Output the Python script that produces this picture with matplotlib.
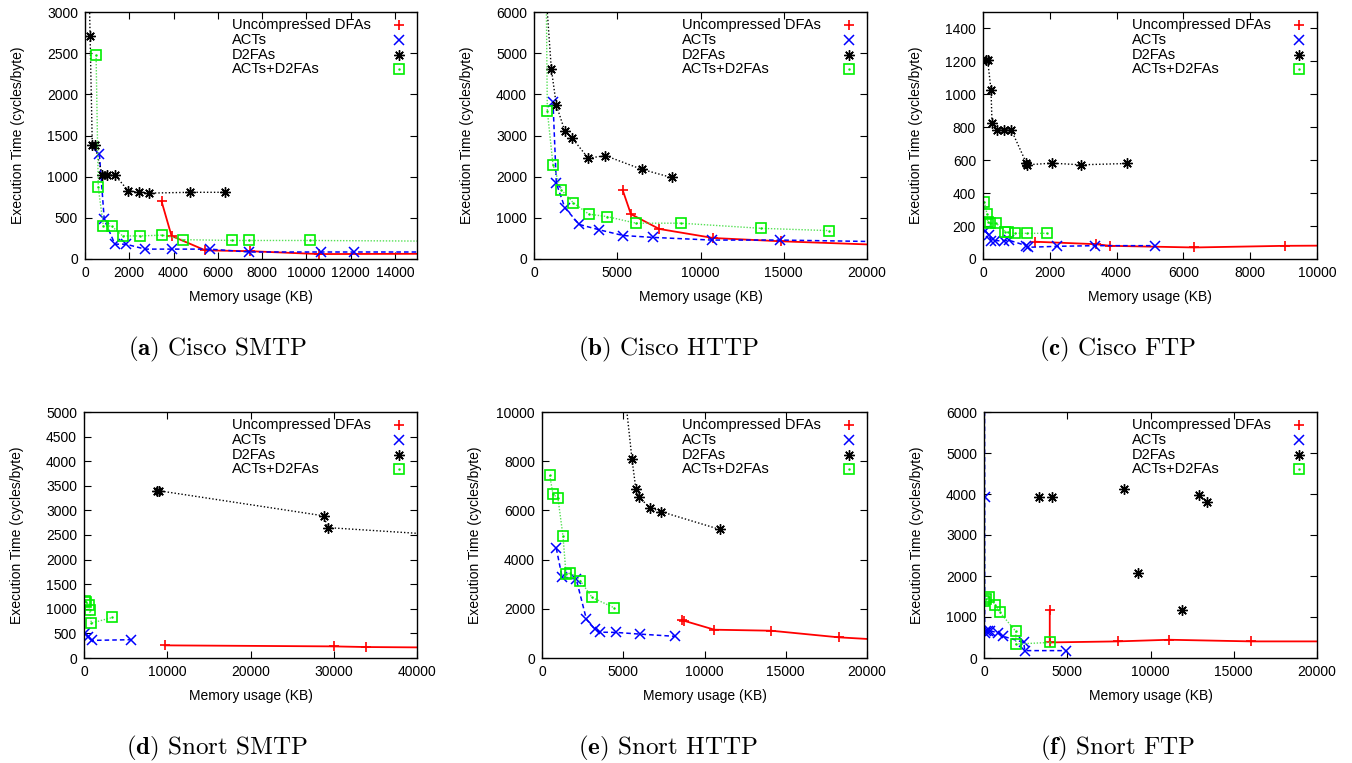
import matplotlib.pyplot as plt

plt.rcParams['font.family'] = ['Liberation Sans', 'DejaVu Sans']
plt.rcParams['mathtext.fontset'] = 'cm'

# ---- data (memory KB, cycles/byte) ----
# (a) Cisco SMTP
a_unc_x = [3460, 3910, 5440, 7450, 10550, 18000]
a_unc_y = [700, 280, 105, 95, 60, 65]
a_act_x = [650, 870, 1350, 1850, 2710, 3910, 5640, 7410, 10650, 12140, 17000]
a_act_y = [1270, 480, 180, 180, 120, 120, 120, 85, 85, 85, 85]
a_d2f_x = [100, 230, 330, 450, 780, 980, 1350, 1950, 2440, 2870, 4740, 6320]
a_d2f_y = [4500, 2710, 1380, 1380, 1020, 1020, 1020, 830, 810, 800, 810, 810]
a_acd_x = [500, 600, 830, 1200, 1700, 2480, 3500, 4410, 6650, 7410, 10150, 17000]
a_acd_y = [2480, 870, 400, 400, 280, 280, 290, 235, 225, 225, 225, 215]

# (b) Cisco HTTP
b_unc_x = [5320, 5820, 7520, 10770, 14840, 21000]
b_unc_y = [1680, 1090, 730, 510, 430, 340]
b_act_x = [1140, 1340, 1850, 2710, 3910, 5360, 7120, 10670, 14780, 21000]
b_act_y = [3820, 1840, 1250, 840, 710, 570, 525, 460, 460, 420]
b_d2f_x = [450, 1040, 1340, 1850, 2310, 3250, 4290, 6460, 8260]
b_d2f_y = [8000, 4620, 3740, 3110, 2930, 2450, 2510, 2180, 1980]
b_acd_x = [700, 800, 1140, 1640, 2350, 3290, 4390, 6120, 8810, 13640, 17690]
b_acd_y = [8000, 3600, 2290, 1680, 1370, 1090, 1030, 870, 870, 745, 690]

# (c) Cisco FTP
c_unc_x = [1550, 3380, 3810, 6320, 9030, 11000]
c_unc_y = [105, 90, 80, 70, 80, 82]
c_act_x = [70, 170, 250, 350, 620, 790, 1300, 1340, 2210, 3360, 5160]
c_act_y = [172, 146, 111, 111, 111, 113, 81, 71, 77, 81, 81]
c_d2f_x = [90, 140, 240, 270, 420, 620, 850, 1290, 1320, 2060, 2930, 4310]
c_d2f_y = [1207, 1207, 1025, 825, 783, 783, 783, 586, 572, 582, 572, 580]
c_acd_x = [40, 120, 140, 220, 400, 670, 740, 950, 1320, 1910]
c_acd_y = [348, 273, 226, 218, 216, 166, 162, 156, 156, 156]

# (d) Snort SMTP
d_unc_x = [9690, 29980, 33830, 45000]
d_unc_y = [257, 236, 223, 210]
d_act_x = [100, 480, 960, 5680]
d_act_y = [507, 426, 358, 372]
d_d2f_x = [8810, 8970, 28780, 29300, 45000]
d_d2f_y = [3400, 3400, 2890, 2650, 2480]
d_acd_x = [80, 280, 560, 680, 880, 3400]
d_acd_y = [1150, 1135, 1080, 966, 709, 824]

# (e) Snort HTTP
e_unc_x = [8620, 8760, 10610, 14090, 18260, 22000]
e_unc_y = [1550, 1510, 1150, 1110, 840, 700]
e_act_x = [880, 1230, 2110, 2730, 3240, 3590, 4550, 6050, 8210]
e_act_y = [4460, 3310, 3200, 1580, 1180, 1050, 1040, 970, 880]
e_d2f_x = [4900, 5540, 5780, 5990, 6630, 7320, 10930]
e_d2f_y = [12000, 8070, 6850, 6530, 6110, 5950, 5230]
e_acd_x = [470, 680, 980, 1290, 1480, 1740, 2360, 3080, 4410]
e_acd_y = [7430, 6650, 6510, 4960, 3400, 3470, 3140, 2460, 2050]

# (f) Snort FTP
f_unc_x = [3950, 3950, 8020, 11130, 16050, 22000]
f_unc_y = [1160, 380, 405, 445, 405, 405]
f_act_x = [20, 40, 40, 140, 240, 340, 840, 1140, 2390, 2450, 4910]
f_act_y = [9000, 3930, 610, 670, 650, 670, 610, 530, 380, 180, 180]
f_d2f_x = [3290, 4090, 8410, 9230, 11880, 12940, 13380]
f_d2f_y = [3930, 3930, 4110, 2070, 1160, 3970, 3810]
f_acd_x = [10, 30, 140, 280, 680, 940, 1910, 1910, 3990]
f_acd_y = [9000, 1400, 1440, 1480, 1300, 1120, 650, 340, 380]

labels = ['Uncompressed DFAs', 'ACTs', 'D2FAs', 'ACTs+D2FAs']
captions = [r'$\mathbf{(a)}$ Cisco SMTP', r'$\mathbf{(b)}$ Cisco HTTP', r'$\mathbf{(c)}$ Cisco FTP',
            r'$\mathbf{(d)}$ Snort SMTP', r'$\mathbf{(e)}$ Snort HTTP', r'$\mathbf{(f)}$ Snort FTP']

GREEN = '#00ee00'
UNC_M = dict(color='#ff0000', marker='+', ms=7, mew=1.2)
ACT_M = dict(color='#0000ff', marker='x', ms=6.5, mew=1.1)
D2F_M = dict(color='black', marker=(8, 2, 0), ms=7.5, mew=1.0)
ACD_M = dict(color='#55e055', marker='s', ms=7, mfc='none', mec=GREEN, mew=1.2)
UNC = dict(UNC_M, ls='-', lw=1.3)
ACT = dict(ACT_M, ls=(0, (3, 2)), lw=1.1)
D2F = dict(D2F_M, ls=(0, (1, 1.5)), lw=1.0)
ACD = dict(ACD_M, ls=(0, (1, 1.2)), lw=1.0)
DOT = dict(ls='none', marker='.', ms=1.5, color=GREEN)

W, H = 1352, 763
fig = plt.figure(figsize=(W / 100, H / 100), dpi=100)


def panel(box, xlim, xticks, ylim, yticks, series, d2f_line=True):
    l, r, t, b = box
    ax = fig.add_axes([l / W, 1 - b / H, (r - l) / W, (b - t) / H])
    (ux, uy), (ax_x, ax_y), (dx, dy), (gx, gy) = series
    ax.plot(ux, uy, **UNC)
    ax.plot(ax_x, ax_y, **ACT)
    d2 = dict(D2F)
    if not d2f_line:
        d2['ls'] = 'none'
    ax.plot(dx, dy, **d2)
    ax.plot(gx, gy, **ACD)
    ax.plot(gx, gy, **DOT)
    ax.set_xlim(*xlim)
    ax.set_ylim(*ylim)
    ax.set_xticks(xticks)
    ax.set_yticks(yticks)
    ax.tick_params(direction='in', top=True, right=True, length=5, width=0.8,
                   labelsize=10, pad=5)
    for s in ax.spines.values():
        s.set_linewidth(1.0)

    # gnuplot-style key: left-justified text, sample marker at the right
    wpx, hpx = r - l, b - t
    xt = 1 - 185 / wpx
    xm = 1 - 18 / wpx
    keys = [UNC_M, ACT_M, D2F_M, ACD_M]
    for i, (lab, km) in enumerate(zip(labels, keys)):
        yk = 1 - (13 + 14.8 * i) / hpx
        ax.text(xt, yk, lab, transform=ax.transAxes, ha='left', va='center', fontsize=10.5)
        ax.plot([xm], [yk], transform=ax.transAxes, ls='none', clip_on=False, **km)
        if km is ACD_M:
            ax.plot([xm], [yk], transform=ax.transAxes, clip_on=False, **DOT)

    cx = (l + r) / 2
    fig.text(cx / W, 1 - (b + 38) / H, 'Memory usage (KB)', ha='center', va='center',
             fontsize=10)
    fig.text((l - 67) / W, 1 - (t + b) / 2 / H, 'Execution Time (cycles/byte)',
             rotation=90, ha='center', va='center', fontsize=10)
    return ax


panel((85, 417, 12, 259), (0, 15000), range(0, 15000, 2000), (0, 3000), range(0, 3001, 500),
      [(a_unc_x, a_unc_y), (a_act_x, a_act_y), (a_d2f_x, a_d2f_y), (a_acd_x, a_acd_y)])
panel((534, 867, 12, 259), (0, 20000), range(0, 20001, 5000), (0, 6000), range(0, 6001, 1000),
      [(b_unc_x, b_unc_y), (b_act_x, b_act_y), (b_d2f_x, b_d2f_y), (b_acd_x, b_acd_y)])
panel((983, 1317, 12, 259), (0, 10000), range(0, 10001, 2000), (0, 1500), range(0, 1401, 200),
      [(c_unc_x, c_unc_y), (c_act_x, c_act_y), (c_d2f_x, c_d2f_y), (c_acd_x, c_acd_y)])
panel((84, 417, 412, 658), (0, 40000), range(0, 40001, 10000), (0, 5000), range(0, 5001, 500),
      [(d_unc_x, d_unc_y), (d_act_x, d_act_y), (d_d2f_x, d_d2f_y), (d_acd_x, d_acd_y)])
panel((542, 867, 412, 658), (0, 20000), range(0, 20001, 5000), (0, 10000), range(0, 10001, 2000),
      [(e_unc_x, e_unc_y), (e_act_x, e_act_y), (e_d2f_x, e_d2f_y), (e_acd_x, e_acd_y)])
panel((984, 1317, 412, 658), (0, 20000), range(0, 20001, 5000), (0, 6000), range(0, 6001, 1000),
      [(f_unc_x, f_unc_y), (f_act_x, f_act_y), (f_d2f_x, f_d2f_y), (f_acd_x, f_acd_y)],
      d2f_line=False)

cap_x = [217, 668, 1118]
cap_y = [349, 748]
for i, cap in enumerate(captions):
    fig.text(cap_x[i % 3] / W, 1 - cap_y[i // 3] / H, cap, family='cmr10', fontsize=18,
             ha='center', va='center')

fig.savefig('out.png', dpi=100)
